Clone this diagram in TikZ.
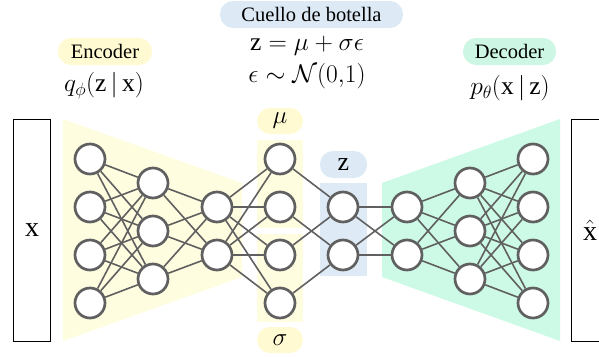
\documentclass[tikz,border=0pt]{standalone}
\usepackage{fix-cm}
\usepackage{fontspec}
\setmainfont{Liberation Serif}
\definecolor{ngray}{HTML}{606060}
\definecolor{yfill}{HTML}{FFFDE0}
\definecolor{gfill}{HTML}{CDFAE7}
\definecolor{bfill}{HTML}{DEEBF6}
\definecolor{ypill}{HTML}{FFFAD2}
\definecolor{gpill}{HTML}{CDF7E4}
\definecolor{bpill}{HTML}{DDEAF6}
\begin{document}
\begin{tikzpicture}[x=1pt,y=-1pt,
  neuron/.style={circle, draw=ngray, fill=white, line width=2.7pt, minimum size=30pt, inner sep=0pt},
  link/.style={draw=ngray, line width=1.6pt},
  pill/.style={rounded corners=13pt, minimum height=27pt, inner sep=0pt, font=\fontsize{20.5}{24}\selectfont},
  eqn/.style={inner sep=0pt, font=\fontsize{25.5}{29}\selectfont},
  iobox/.style={draw=black, line width=1.3pt, minimum width=37pt, minimum height=222pt, inner sep=0pt, font=\fontsize{28}{32}\selectfont}
  ]
\clip (0,0) rectangle (599,356);
% backgrounds
\fill[yfill] (63,119) -- (242,183) -- (242,277) -- (63,341) -- cycle;
\fill[gfill] (382,183) -- (560,119) -- (560,341) -- (382,277) -- cycle;
\fill[yfill] (257,140) rectangle (303,228);
\fill[yfill] (257,234) rectangle (303,322);
\fill[bfill] (320,183) rectangle (367,276);
% io boxes
\node[iobox] (xin) at (32,230.5) {x};
\node[iobox] (xout) at (590,230.5) {$\hat{\mathrm{x}}$};
% labels
\node[pill, fill=ypill, minimum width=94pt] (enc) at (105,51.5) {Encoder};
\node[eqn] (q) at (104,86) {$q_\phi(\mathrm{z}\,|\,\mathrm{x})$};
\node[pill, fill=bpill, minimum width=183pt] (cue) at (311.5,14.5) {Cuello de botella};
\node[eqn] (eq1) at (307,46) {$\mathrm{z} = \mu + \sigma\epsilon$};
\node[eqn] (eq2) at (307,76) {$\epsilon \sim \mathcal{N}(0{,}1)$};
\node[pill, fill=gpill, minimum width=93pt] (dec) at (509.5,51.5) {Decoder};
\node[eqn] (p) at (510,88) {$p_\theta(\mathrm{x}\,|\,\mathrm{z})$};
\node[pill, fill=ypill, minimum width=46pt, minimum height=26pt, font=\fontsize{25}{28}\selectfont] (mul) at (280,121) {$\mu$};
\node[pill, fill=ypill, minimum width=46pt, minimum height=26pt, font=\fontsize{25}{28}\selectfont] (sigl) at (280,340) {$\sigma$};
\node[pill, fill=bpill, minimum width=47pt, font=\fontsize{26}{28}\selectfont] (zl) at (343.5,164.5) {$\mathrm{z}$};
% neurons
\foreach \i/\y in {1/159,2/207,3/255,4/303} {
  \node[neuron] (e1\i) at (90,\y) {};
  \node[neuron] (m\i) at (280,\y) {};
  \node[neuron] (d3\i) at (533,\y) {};
}
\foreach \i/\y in {1/183,2/231,3/279} {
  \node[neuron] (e2\i) at (153,\y) {};
  \node[neuron] (d2\i) at (470,\y) {};
}
\foreach \i/\y in {1/207,2/255} {
  \node[neuron] (e3\i) at (217,\y) {};
  \node[neuron] (z\i) at (343,\y) {};
  \node[neuron] (d1\i) at (407,\y) {};
}
% links
\foreach \i in {1,...,4} \foreach \j in {1,2,3} {
  \draw[link] (e1\i) -- (e2\j);
  \draw[link] (d2\j) -- (d3\i);
}
\foreach \i in {1,2,3} \foreach \j in {1,2} {
  \draw[link] (e2\i) -- (e3\j);
  \draw[link] (d1\j) -- (d2\i);
}
\foreach \i in {1,2} \foreach \j in {1,...,4} {
  \draw[link] (e3\i) -- (m\j);
}
\draw[link] (m1) -- (z1);
\draw[link] (m3) -- (z1);
\draw[link] (m2) -- (z2);
\draw[link] (m4) -- (z2);
\foreach \i in {1,2} \foreach \j in {1,2} {
  \draw[link] (z\i) -- (d1\j);
}
\end{tikzpicture}
\end{document}
